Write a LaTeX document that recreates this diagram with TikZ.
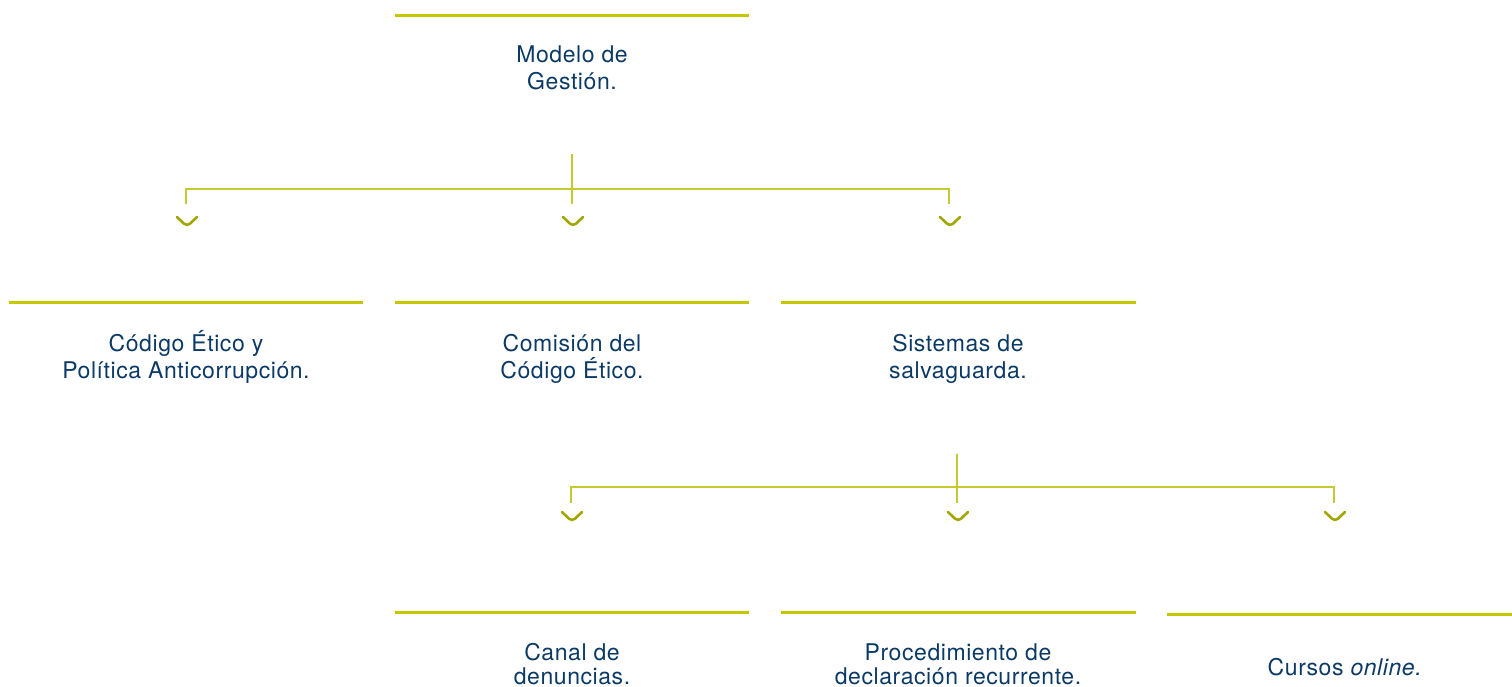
\documentclass[tikz,border=0pt]{standalone}
\usepackage{fontspec}
\setmainfont[LetterSpace=2.5]{TeX Gyre Heros}
\definecolor{txt}{HTML}{0C3A66}
\definecolor{barc}{HTML}{C3C800}
\definecolor{connc}{HTML}{C6CA2E}
\definecolor{chevc}{HTML}{A2A600}
\begin{document}
\begin{tikzpicture}[x=1pt,y=-1pt,
  bar/.style={draw=barc, line width=2.8pt},
  conn/.style={draw=connc, line width=1.9pt},
  chev/.style={draw=chevc, line width=2.6pt, rounded corners=4pt, line cap=round},
  lbl/.style={text=txt, font=\fontsize{23}{27}\selectfont, align=center, inner sep=0pt, anchor=base},
  lblb/.style={lbl, font=\fontsize{23}{24}\selectfont}]
\useasboundingbox (0,0) rectangle (1512,687);
% bars
\draw[bar] (395,15.3) -- (749,15.3);
\draw[bar] (9,302.7) -- (362.7,302.7);
\draw[bar] (395,302.7) -- (749,302.7);
\draw[bar] (781,302.7) -- (1135.5,302.7);
\draw[bar] (395,612.7) -- (749,612.7);
\draw[bar] (781,612.7) -- (1135.5,612.7);
\draw[bar] (1167,614.7) -- (1512,614.7);
% labels (base anchor = baseline of last line)
\node[lbl] (m) at (572,89.5) {Modelo de\\Gestión.};
\node[lbl] (c1) at (186,378) {Código Ético y\\Política Anticorrupción.};
\node[lbl] (c2) at (572,378) {Comisión del\\Código Ético.};
\node[lbl] (c3) at (958,378) {Sistemas de\\salvaguarda.};
\node[lblb] (d1) at (572,684) {Canal de\\denuncias.};
\node[lblb] (d2) at (958,684) {Procedimiento de\\declaración recurrente.};
\node[lbl] (d3) at (1345,675) {Cursos \textit{online.}};
% first fork
\coordinate (s1) at (572,154);
\coordinate (j1) at (572,189);
\coordinate (e1a) at (186,204.5);
\coordinate (e1b) at (572,204.5);
\coordinate (e1c) at (949,204.5);
\draw[conn] (s1) -- (e1b);
\draw[conn] (e1a) |- (j1) -| (e1c);
\coordinate (a1) at (187,226.5);
\coordinate (a2) at (573,226.5);
\coordinate (a3) at (950,226.5);
% second fork
\coordinate (s2) at (957,454);
\coordinate (j2) at (957,487);
\coordinate (e2a) at (571,502.5);
\coordinate (e2b) at (957,502.5);
\coordinate (e2c) at (1334,502.5);
\draw[conn] (s2) -- (e2b);
\draw[conn] (e2a) |- (j2) -| (e2c);
\coordinate (b1) at (572,521.5);
\coordinate (b2) at (958,521.5);
\coordinate (b3) at (1335,521.5);
% chevrons
\foreach \c in {a1,a2,a3,b1,b2,b3}
  \draw[chev] ([shift={(-10,-9.5)}]\c) -- (\c) -- ([shift={(10,-9.5)}]\c);
\end{tikzpicture}
\end{document}
